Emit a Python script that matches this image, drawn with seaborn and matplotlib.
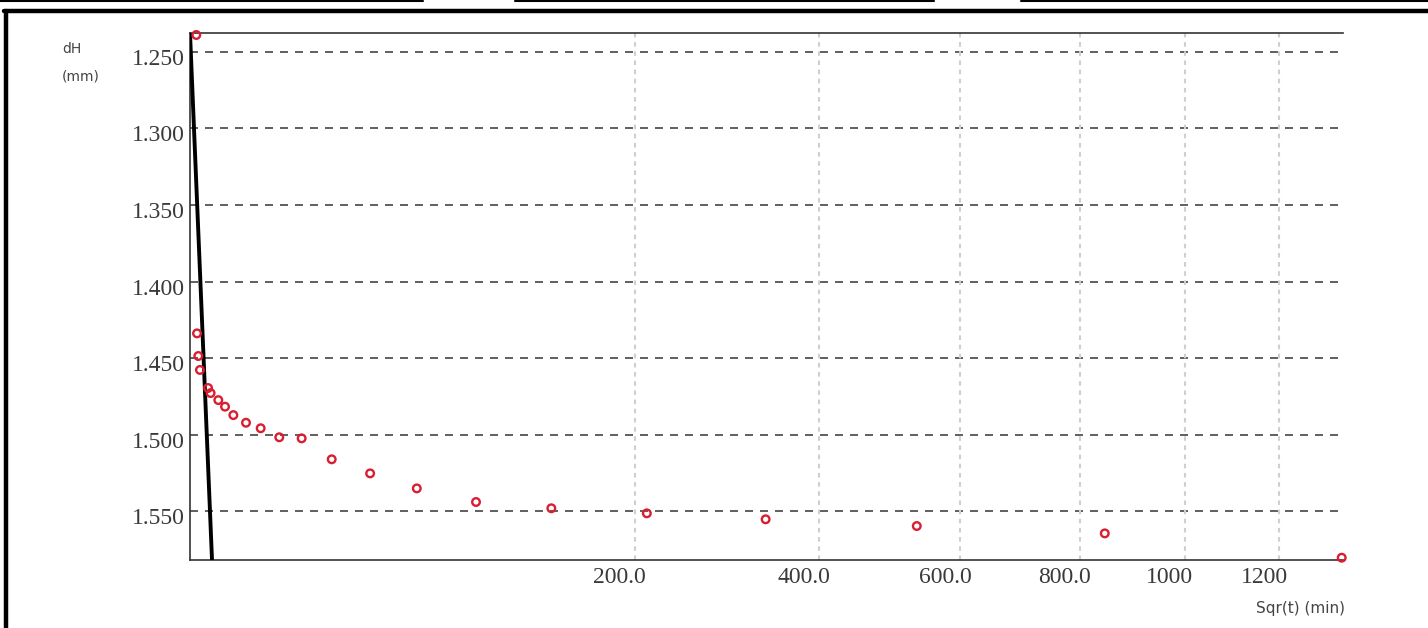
import numpy as np
import pandas as pd
import matplotlib
matplotlib.use('Agg')
import matplotlib.pyplot as plt
import matplotlib.transforms as mtransforms
from matplotlib.lines import Line2D
import seaborn as sns

# Readings: elapsed time (min) and settlement dH (mm)
time_min = [0.04, 0.05, 0.07, 0.10, 0.33, 0.43, 0.81, 1.24, 1.90, 3.17, 5.05, 8.06,
            12.6, 20.3, 32.8, 52.0, 82.7, 132.0, 211.0, 335.0, 534.0, 846.0, 1341.0]
dh_mm = [1.2389, 1.4339, 1.4487, 1.4578, 1.4696, 1.4729, 1.4775, 1.4818, 1.4873, 1.4923,
         1.4959, 1.5018, 1.5025, 1.5162, 1.5254, 1.5352, 1.5441, 1.5482, 1.5515, 1.5554,
         1.5598, 1.5646, 1.5805]

# Tangent line through the start of the curve
tangent_t = [0.0, 0.49]
tangent_dh = [1.2376, 1.582]

x_ticks = [200, 400, 600, 800, 1000, 1200]
x_labels = ['200.0', '400.0', '600.0', '800.0', '1000', '1200']
y_ticks = [1.25, 1.30, 1.35, 1.40, 1.45, 1.50, 1.55]
y_labels = ['1.250', '1.300', '1.350', '1.400', '1.450', '1.500', '1.550']

df = pd.DataFrame({'t': time_min, 'dH': dh_mm})
tan_df = pd.DataFrame({'t': tangent_t, 'dH': tangent_dh})

sns.set_style('white')

fig = plt.figure(figsize=(14.28, 6.28), dpi=100)
ax = fig.add_axes([190 / 1428, 1 - 560 / 628, (1343 - 190) / 1428, (560 - 33) / 628])

ax.set_xscale('function', functions=(lambda x: np.sqrt(np.clip(x, 0, None)), lambda x: np.square(x)))
ax.set_xlim(0, 1344)
ax.set_ylim(1.582, 1.2376)

# grid lines
for yv in y_ticks:
    ax.axhline(yv, color='#444444', lw=1.2, linestyle=(0, (4.8, 4.2)), zorder=1)
for xv in x_ticks:
    ax.axvline(xv, color='#cfcfcf', lw=1.5, linestyle=(0, (2.2, 2.2)), zorder=1)

sns.lineplot(data=tan_df, x='t', y='dH', ax=ax, color='black', lw=2.8, zorder=3)
sns.scatterplot(data=df, x='t', y='dH', ax=ax, marker='o', s=30, facecolor='none',
                edgecolor='#d81e30', linewidth=1.7, zorder=4, clip_on=False)

ax.set_xticks(x_ticks)
ax.set_xticklabels(x_labels)
ax.set_yticks(y_ticks)
ax.set_yticklabels(y_labels)
ax.tick_params(axis='both', length=0, labelsize=17, labelcolor='#3a3a3a')
ax.tick_params(axis='x', pad=5)
ax.tick_params(axis='y', pad=4)
for lab in ax.get_xticklabels() + ax.get_yticklabels():
    lab.set_fontfamily(['Liberation Serif', 'DejaVu Serif'])
off_x = mtransforms.ScaledTranslation(-15 / 100, 0, fig.dpi_scale_trans)
for lab in ax.get_xticklabels():
    lab.set_transform(lab.get_transform() + off_x)
off_y = mtransforms.ScaledTranslation(0, -5 / 100, fig.dpi_scale_trans)
for lab in ax.get_yticklabels():
    lab.set_transform(lab.get_transform() + off_y)

ax.set_xlabel('')
ax.set_ylabel('')
ax.grid(False)
for side in ['left', 'bottom', 'top']:
    ax.spines[side].set_color('#333333')
    ax.spines[side].set_linewidth(1.2)
ax.spines['right'].set_visible(False)

# axis titles
fig.text(62 / 1428, 1 - 49 / 628, 'dH', fontsize=10, color='#444444', va='center', ha='left')
fig.text(62 / 1428, 1 - 76 / 628, '(mm)', fontsize=10, color='#444444', va='center', ha='left')
fig.text(1345 / 1428, 1 - 608 / 628, 'Sqr(t) (min)', fontsize=11, color='#444444', va='center', ha='right')

# page frame around the chart
fig.add_artist(Line2D([4 / 1428, 1], [1 - 11 / 628, 1 - 11 / 628], color='black', lw=3.2))
fig.add_artist(Line2D([6 / 1428, 6 / 1428], [0, 1 - 11 / 628], color='black', lw=3.2))
for x0, x1 in [(0, 423), (515, 934), (1021, 1428)]:
    fig.add_artist(Line2D([x0 / 1428, x1 / 1428], [1 - 1 / 628, 1 - 1 / 628], color='black', lw=1.5))

fig.savefig('out.png', dpi=100)
